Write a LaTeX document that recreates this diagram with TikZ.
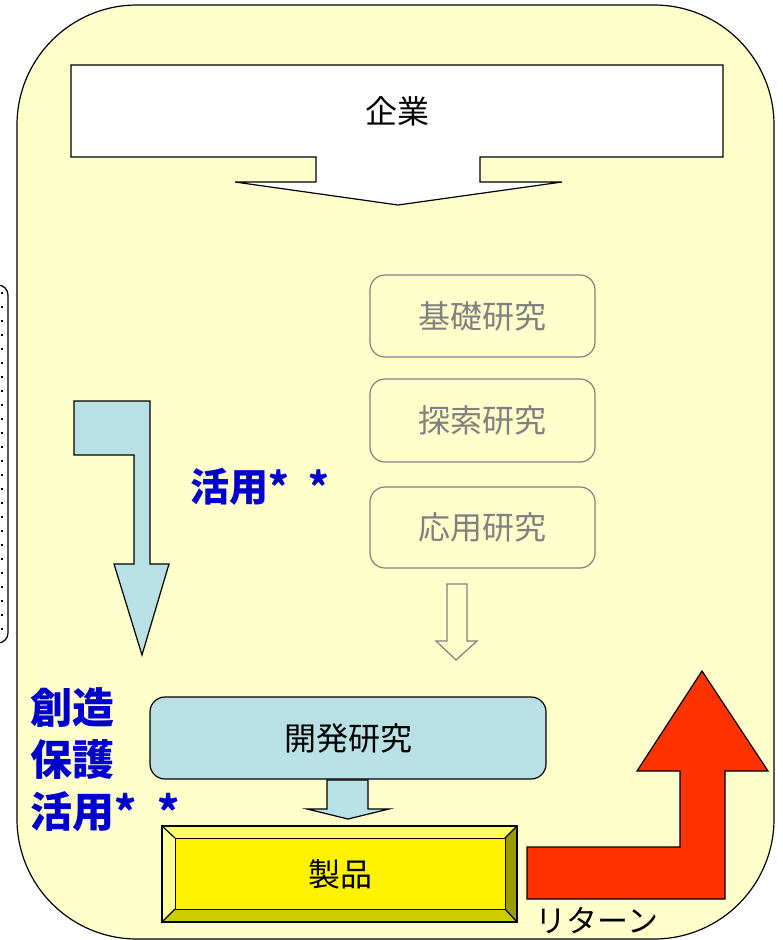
\documentclass[tikz,border=0pt]{standalone}
\usepackage{fontspec}
\setmainfont{Noto Sans CJK JP}
\definecolor{bgyellow}{HTML}{FFFFCC}
\definecolor{lblue}{HTML}{B9E0E4}
\definecolor{dblue}{HTML}{0000CC}
\definecolor{gtext}{HTML}{808080}
\definecolor{redarrow}{HTML}{FF3300}
\definecolor{ylight}{HTML}{FFFF66}
\definecolor{yleft}{HTML}{FFFF99}
\definecolor{yright}{HTML}{999900}
\definecolor{ybottom}{HTML}{CCCC00}
\newcommand{\astgap}{*\hspace{0.5em}*}
\begin{document}
\begin{tikzpicture}[x=1pt,y=-1pt,
  outline/.style={draw=black,line width=1.2pt,line join=miter},
  graybox/.style={draw=gtext,line width=1.2pt,rounded corners=15pt,minimum width=225pt,text=gtext,font=\fontsize{32}{36}\selectfont},
  bluelabel/.style={text=dblue,font=\bfseries\fontsize{42}{52}\selectfont,inner sep=0pt},
  plain/.style={font=\fontsize{32}{36}\selectfont,inner sep=0pt}]
\useasboundingbox (0,0) rectangle (782,940);
% left partial dotted box
\draw[line width=1.2pt,fill=white,rounded corners=10pt] (-60,285) rectangle (8,643);
\draw[line width=2pt,dash pattern=on 1.5pt off 12.5pt] (1.5,292) -- (1.5,640);
% outer background
\draw[line width=1.2pt,fill=bgyellow,rounded corners=120pt] (17,5) rectangle (774,939);
% company callout
\draw[outline,fill=white] (71,65) -- (723,65) -- (723,157) -- (480,157) -- (480,182) -- (562,182) -- (398,205) -- (235,182) -- (316,182) -- (316,157) -- (71,157) -- cycle;
\node[plain] (kigyo) at (397,111) {企業};
% research boxes
\node[graybox,minimum height=82pt] (kiso) at (482.5,316) {基礎研究};
\node[graybox,minimum height=83pt] (tansaku) at (482.5,420.5) {探索研究};
\node[graybox,minimum height=81pt] (oyo) at (482.5,527.5) {応用研究};
% hollow arrow
\draw[draw=gtext,line width=1.2pt,fill=bgyellow] (447,584) -- (467,584) -- (467,641) -- (477,641) -- (456,660) -- (436,641) -- (447,641) -- cycle;
% left bent arrow
\draw[outline,fill=lblue] (74,401) -- (150,401) -- (150,564) -- (169,564) -- (142,655) -- (114,564) -- (134,564) -- (134,455) -- (74,455) -- cycle;
\node[bluelabel,font=\bfseries\fontsize{39}{48}\selectfont,anchor=west] (katsuyo1) at (190,487) {活用\astgap};
% development box
\node[draw=black,line width=1.2pt,fill=lblue,rounded corners=15pt,minimum width=396pt,minimum height=82pt,plain] (kaihatsu) at (348,738) {開発研究};
% small arrow
\draw[outline,fill=lblue] (327,780) -- (368,780) -- (368,809) -- (389,809) -- (348,819) -- (307,809) -- (327,809) -- cycle;
% product bevel box
\fill[ylight] (162,826) -- (517,826) -- (505,838) -- (175,838) -- cycle;
\fill[yleft] (162,826) -- (175,838) -- (175,909) -- (162,922) -- cycle;
\fill[yright] (517,826) -- (517,922) -- (505,909) -- (505,838) -- cycle;
\fill[ybottom] (162,922) -- (175,909) -- (505,909) -- (517,922) -- cycle;
\draw[line width=1.2pt] (162,826) -- (175,838) (517,826) -- (505,838) (162,922) -- (175,909) (517,922) -- (505,909);
\draw[line width=1.2pt] (162,826) rectangle (517,922);
\node[draw=black,line width=1.2pt,fill=yellow,minimum width=330pt,minimum height=71pt,plain,anchor=north west] (seihin) at (175,838) {製品};
% red return arrow
\draw[outline,fill=redarrow] (527,899) -- (527,847) -- (680,847) -- (680,771) -- (637,771) -- (702,671) -- (768,771) -- (725,771) -- (725,899) -- cycle;
\node[font=\fontsize{31}{36}\selectfont,inner sep=0pt] (return) at (597,921) {リターン};
% left blue labels
\node[bluelabel,align=left,anchor=west] (sozo) at (30,760) {創造\\保護\\活用\astgap};
\end{tikzpicture}
\end{document}
